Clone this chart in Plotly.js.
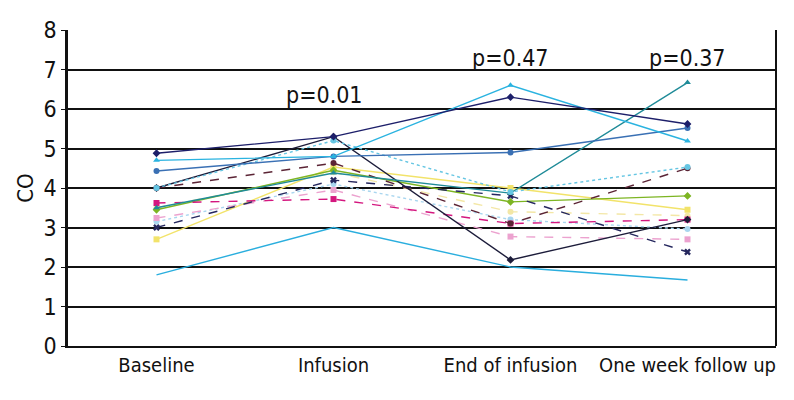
<!DOCTYPE html>
<html>
<head>
<meta charset="utf-8">
<script src="https://cdn.plot.ly/plotly-3.0.1.min.js"></script>
<style>
html, body { margin: 0; padding: 0; background: #fff; }
#graph { width: 794px; height: 400px; }
</style>
</head>
<body>
<div id="graph"></div>
<script>
// données
var categories = ['Baseline', 'Infusion', 'End of infusion', 'One week follow up'];
var navy = [4.88, 5.3, 6.3, 5.62];
var cyan = [4.7, 4.8, 6.6, 5.19];
var steel = [4.43, 4.8, 4.9, 5.52];
var lightCyan = [4.0, 5.2, 3.9, 4.53];
var teal = [3.5, 4.38, 3.87, 6.67];
var black = [4.0, 5.3, 2.18, 3.2];
var brown = [4.0, 4.63, 3.1, 4.5];
var navyX = [3.0, 4.2, 3.8, 2.38];
var magenta = [3.62, 3.72, 3.1, 3.2];
var green = [3.45, 4.45, 3.65, 3.8];
var yellow = [2.7, 4.53, 4.0, 3.45];
var paleYellow = [3.5, 4.4, 3.4, 3.3];
var pink = [3.24, 3.95, 2.77, 2.7];
var paleBlue = [3.15, 4.1, 3.2, 2.96];
var cyanLow = [1.8, 3.0, 2.0, 1.67];

var pLabels = ['p=0.01', 'p=0.47', 'p=0.37'];
var pX = [0.95, 2, 3];
var pY = [6.35, 7.3, 7.3];

var xs = [0, 1, 2, 3];

function serie(y, color, symbol, dash) {
	return {
		x: xs, y: y,
		mode: 'lines+markers',
		line: {color: color, width: 1.4, dash: dash || 'solid'},
		marker: {color: color, size: 6, symbol: symbol || 'circle'},
		showlegend: false,
		hoverinfo: 'y'
	};
}

var data = [
	serie(paleBlue, '#a9d6ef', 'circle', 'dot'),
	serie(pink, '#eca2cf', 'square', 'dash'),
	serie(paleYellow, '#f3e7a6', 'circle', 'dash'),
	serie(yellow, '#f2e36a', 'square'),
	serie(green, '#7db523', 'diamond'),
	serie(magenta, '#d4177f', 'square', 'dash'),
	serie(navyX, '#25275e', 'x', 'dash'),
	serie(brown, '#5b2435', 'circle', 'dash'),
	serie(black, '#1c1c3a', 'diamond'),
	serie(teal, '#1f8b98', 'triangle-up'),
	serie(lightCyan, '#66c6e3', 'circle', 'dot'),
	serie(steel, '#3a70b4', 'circle'),
	serie(cyan, '#2ab3e0', 'triangle-up'),
	serie(navy, '#1d1f6a', 'diamond'),
	serie(cyanLow, '#2aaede', 'asterisk')
];

var annotations = pLabels.map(function(t, i) {
	return {x: pX[i], y: pY[i], text: t, showarrow: false,
		font: {size: 23, color: '#111'}, xanchor: 'center', yanchor: 'middle'};
});

var layout = {
	width: 794, height: 400,
	margin: {l: 68, r: 18, t: 30, b: 54},
	paper_bgcolor: '#fff', plot_bgcolor: '#fff',
	font: {family: '"DejaVu Sans Condensed", "Liberation Sans Narrow", sans-serif', color: '#111'},
	xaxis: {
		range: [-0.5, 3.5],
		tickvals: xs, ticktext: categories,
		showgrid: false, zeroline: false,
		showline: true, linecolor: '#111', linewidth: 2, mirror: false,
		ticks: '', tickfont: {size: 20}
	},
	yaxis: {
		range: [0, 8], dtick: 1,
		showgrid: true, gridcolor: '#111', gridwidth: 1.8,
		zeroline: false,
		showline: true, linecolor: '#111', linewidth: 2.5,
		ticks: 'outside', ticklen: 4, tickcolor: '#111',
		tickfont: {size: 23},
		title: {text: 'CO', font: {size: 22}, standoff: 4}
	},
	shapes: [{type: 'line', xref: 'paper', yref: 'paper', x0: 1, x1: 1, y0: 0, y1: 1,
		line: {color: '#111', width: 2}}],
	annotations: annotations
};

Plotly.newPlot('graph', data, layout, {displayModeBar: false, displaylogo: false});
</script>
</body>
</html>
